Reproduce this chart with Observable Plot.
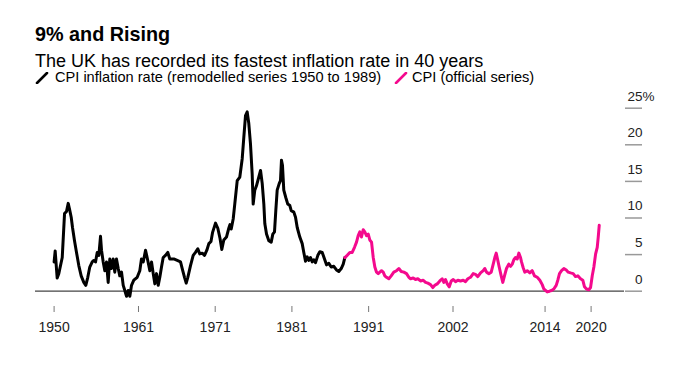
<!DOCTYPE html>
<html>
<head>
<meta charset="utf-8">
<script src="https://cdn.jsdelivr.net/npm/d3@7"></script>
<script src="https://cdn.jsdelivr.net/npm/@observablehq/plot@0.6"></script>
<style>
  html, body { margin: 0; padding: 0; background: #fff; }
  body { width: 684px; height: 384px; overflow: hidden; font-family: "Liberation Sans", Arial, sans-serif; color: #000; }
  #head { position: relative; width: 684px; height: 86px; }
  #head .abs { position: absolute; white-space: nowrap; }
  #title { left: 35px; top: 24.9px; font-weight: bold; font-size: 19.8px; line-height: 19.8px; }
  #subtitle { left: 35px; top: 51.5px; font-size: 18px; line-height: 18px; }
  .lg { top: 70.3px; font-size: 14.6px; line-height: 14.6px; }
  .sw { position: absolute; top: 72px; }
  #chart svg { display: block; }
</style>
</head>
<body>
<div id="head">
  <div id="title" class="abs">9% and Rising</div>
  <div id="subtitle" class="abs">The UK has recorded its fastest inflation rate in 40 years</div>
  <svg class="sw" style="left:35px" width="14" height="12"><line x1="2" y1="11" x2="12" y2="1" stroke="#000" stroke-width="2.6" stroke-linecap="round"/></svg>
  <div class="abs lg" style="left:55px">CPI inflation rate (remodelled series 1950 to 1989)</div>
  <svg class="sw" style="left:394px" width="14" height="12"><line x1="2" y1="11" x2="12" y2="1" stroke="#f4098d" stroke-width="2.6" stroke-linecap="round"/></svg>
  <div class="abs lg" style="left:412px">CPI (official series)</div>
</div>
<div id="chart"></div>
<script>
// Remodelled CPI series (black), decimal years and annual % rate
const remodelledYears = [
  1950.00,1950.14,1950.40,1950.61,1951.06,1951.36,1951.62,1951.84,1952.05,1952.23,1952.40,1952.66,1952.92,
  1953.22,1953.53,1953.87,1954.13,1954.39,1954.65,1954.97,1955.18,1955.40,1955.62,1955.83,1956.05,1956.18,
  1956.40,1956.61,1956.83,1957.05,1957.26,1957.48,1957.70,1957.91,1958.13,1958.36,1958.56,1958.79,1959.01,
  1959.22,1959.44,1959.66,1959.87,1960.09,1960.39,1960.83,1961.17,1961.39,1961.62,1961.92,1962.21,1962.48,
  1962.70,1962.92,1963.13,1963.35,1963.57,1963.78,1964.00,1964.22,1964.52,1964.82,1965.08,1965.60,1966.05,
  1966.48,1966.70,1967.00,1967.22,1967.43,1967.78,1968.13,1968.43,1968.73,1968.99,1969.31,1969.61,1969.91,
  1970.17,1970.45,1970.65,1971.04,1971.34,1971.63,1971.86,1972.12,1972.47,1972.77,1972.93,1973.09,1973.35,
  1973.56,1973.87,1974.21,1974.52,1974.73,1974.95,1975.17,1975.38,1975.60,1975.82,1975.95,1976.16,1976.38,
  1976.68,1976.91,1977.13,1977.34,1977.47,1977.69,1977.99,1978.30,1978.51,1978.73,1978.90,1979.08,1979.34,
  1979.51,1979.64,1979.77,1979.94,1980.20,1980.46,1980.73,1980.91,1981.25,1981.47,1981.69,1982.03,1982.34,
  1982.55,1982.77,1982.99,1983.20,1983.42,1983.65,1983.85,1984.08,1984.38,1984.64,1984.95,1985.25,1985.51,
  1985.81,1986.12,1986.46,1986.81,1987.11,1987.43,1987.69,1987.90
];
const remodelledValues = [
  4.0,5.5,1.8,2.4,4.6,10.6,10.9,12.0,11.0,10.1,8.7,6.9,5.3,
  3.5,2.1,1.2,0.8,1.9,3.3,4.0,4.2,4.0,5.3,4.9,7.5,5.6,
  4.0,2.8,4.0,1.2,4.4,3.1,4.4,2.6,4.4,3.1,2.1,2.6,0.8,
  0.1,-0.7,0.1,-0.7,0.8,1.5,1.9,2.8,4.4,4.0,5.6,4.2,2.8,
  4.0,2.4,1.0,2.4,0.8,1.9,3.3,4.6,4.9,5.3,4.4,4.4,4.2,
  4.0,3.1,1.9,1.1,1.9,3.5,4.9,5.3,5.8,5.1,5.2,4.9,5.6,
  6.5,6.8,8.0,9.3,8.6,7.2,5.7,7.0,7.4,8.6,9.1,8.5,9.9,
  12.0,15.1,15.6,18.1,21.0,24.0,24.5,22.9,20.1,16.0,11.9,13.8,14.4,
  15.6,16.5,14.7,11.9,9.2,7.8,6.9,6.7,7.8,8.1,11.0,13.8,14.7,
  15.1,17.9,17.2,13.8,12.8,11.9,11.7,11.0,10.8,10.1,8.7,7.4,6.5,
  5.3,4.1,4.7,4.2,4.6,4.0,4.3,3.9,4.9,5.4,5.3,4.4,3.6,
  3.8,3.3,3.4,2.9,2.7,3.1,3.7,4.6
];
// Official CPI series (pink)
const officialYears = [
  1987.90,1988.21,1988.55,1988.86,1989.16,1989.42,1989.64,1989.85,1990.07,1990.29,1990.50,1990.72,1990.95,
  1991.15,1991.38,1991.60,1991.81,1992.03,1992.25,1992.46,1992.68,1992.90,1993.11,1993.33,1993.63,1993.94,
  1994.28,1994.64,1994.94,1995.25,1995.59,1995.94,1996.24,1996.47,1996.81,1997.11,1997.41,1997.76,1998.12,
  1998.42,1998.72,1999.07,1999.37,1999.63,1999.94,2000.28,2000.59,2000.80,2001.02,2001.25,2001.51,2001.77,
  2002.03,2002.33,2002.63,2002.98,2003.33,2003.63,2003.93,2004.28,2004.63,2004.93,2005.23,2005.59,2005.94,
  2006.15,2006.37,2006.67,2006.98,2007.24,2007.45,2007.63,2007.80,2008.02,2008.28,2008.49,2008.71,2008.97,
  2009.27,2009.50,2009.72,2009.93,2010.15,2010.37,2010.58,2010.80,2010.93,2011.15,2011.36,2011.67,2012.01,
  2012.32,2012.62,2012.98,2013.32,2013.63,2013.84,2014.06,2014.28,2014.58,2014.84,2015.14,2015.45,2015.66,
  2015.88,2016.15,2016.45,2016.76,2017.02,2017.32,2017.67,2017.97,2018.27,2018.62,2018.92,2019.14,2019.40,
  2019.70,2019.93,2020.15,2020.36,2020.59,2020.80,2020.93,2021.06
];
const officialValues = [
  4.6,4.9,5.3,5.3,6.0,6.7,7.6,8.1,7.4,8.4,8.1,7.6,7.8,
  7.0,6.7,4.6,3.3,2.6,2.4,2.6,2.8,2.6,2.1,1.9,1.7,2.1,
  2.6,2.8,3.1,2.7,2.6,2.4,1.9,1.7,1.8,1.6,1.7,1.4,1.5,
  1.2,1.1,0.9,0.5,0.8,1.0,1.4,1.7,1.2,1.6,1.0,0.6,1.4,
  1.6,1.3,1.5,1.4,1.5,1.3,1.7,1.9,2.4,2.3,2.0,2.5,2.8,
  3.1,2.6,2.4,2.6,3.7,4.6,5.2,4.4,3.3,2.1,1.2,2.1,3.1,
  3.7,3.4,3.7,4.3,4.6,4.4,5.2,4.6,4.0,3.2,2.6,2.8,2.5,
  2.8,2.1,1.9,1.5,0.9,0.3,0.1,-0.1,0.0,0.1,0.3,0.8,1.5,
  2.4,2.8,3.1,2.9,2.6,2.5,2.4,2.0,2.1,1.7,1.5,0.6,0.3,
  0.2,0.5,2.1,3.3,5.1,6.0,7.4,9.0
];
const xTicks = [1950, 1961, 1971, 1981, 1991, 2002, 2014, 2020];
const yTicks = [0, 5, 10, 15, 20, 25];

const remodelled = remodelledYears.map((year, i) => ({year, value: remodelledValues[i]}));
const official = officialYears.map((year, i) => ({year, value: officialValues[i]}));

const chart = Plot.plot({
  width: 684,
  height: 298,
  marginLeft: 35,
  marginRight: 60,
  marginTop: 21.7,
  marginBottom: 78,
  style: {fontFamily: "'Liberation Sans', Arial, sans-serif", fontSize: "14px", background: "#fff", color: "#222", overflow: "visible"},
  x: {domain: [1947.575, 2024.354], label: null},
  y: {domain: [-2.09, 25], label: null},
  marks: [
    Plot.ruleY([0], {stroke: "#444", strokeWidth: 1.2}),
    Plot.axisX(xTicks, {anchor: "bottom", tickSize: 6, tickPadding: 10, tickFormat: d => String(d), stroke: "#777", fill: "#222", fontSize: 14, label: null}),
    Plot.axisY(yTicks, {anchor: "right", tickSize: 17, stroke: "#999", strokeWidth: 1.5, fill: null, label: null}),
    Plot.axisY(yTicks, {anchor: "right", tickSize: 17, tickPadding: 1, stroke: "none", textAnchor: "end", dy: -12, fill: "#222", fontSize: 13.5, tickFormat: d => String(d), label: null}),
    Plot.text([yTicks[yTicks.length - 1]], {y: d => d, text: () => "%", frameAnchor: "right", dx: 18, dy: -12, textAnchor: "start", fill: "#222", fontSize: 13.5}),
    Plot.line(remodelled, {x: "year", y: "value", stroke: "#000", strokeWidth: 3, strokeLinejoin: "round", strokeLinecap: "round"}),
    Plot.line(official, {x: "year", y: "value", stroke: "#f4098d", strokeWidth: 3, strokeLinejoin: "round", strokeLinecap: "round"})
  ]
});
document.getElementById("chart").appendChild(chart);
</script>
</body>
</html>
